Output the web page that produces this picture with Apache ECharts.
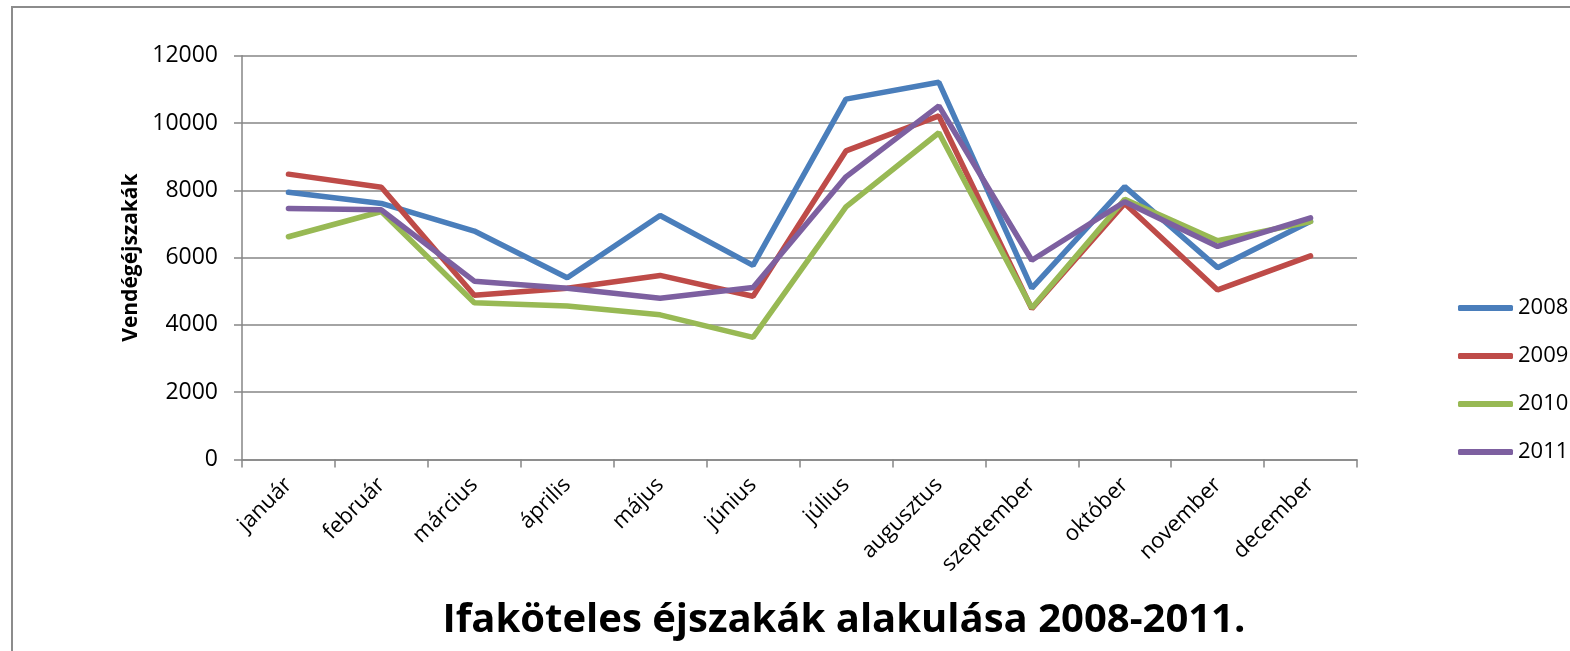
<!DOCTYPE html>
<html>
<head>
<meta charset="utf-8">
<script src="https://cdn.jsdelivr.net/npm/echarts@6/dist/echarts.min.js"></script>
<style>
  html, body { margin: 0; padding: 0; background: #fff; }
  #chart { width: 1570px; height: 651px; }
</style>
</head>
<body>
<div id="chart"></div>
<script>
// hónapok
var months = ['január', 'február', 'március', 'április', 'május', 'június',
  'július', 'augusztus', 'szeptember', 'október', 'november', 'december'];

// vendégéjszakák évenként
var y2008 = [7940, 7610, 6790, 5400, 7250, 5770, 10710, 11210, 5090, 8110, 5700, 7080];
var y2009 = [8480, 8090, 4880, 5090, 5470, 4850, 9170, 10210, 4480, 7610, 5040, 6050];
var y2010 = [6620, 7370, 4660, 4560, 4300, 3630, 7510, 9710, 4500, 7730, 6500, 7070];
var y2011 = [7460, 7420, 5300, 5090, 4790, 5110, 8400, 10510, 5920, 7660, 6330, 7180];

var years = ['2008', '2009', '2010', '2011'];
var yearData = [y2008, y2009, y2010, y2011];
var colors = ['#4a7ebb', '#be4b48', '#98b954', '#7d60a0'];

var axisGray = '#868686';
var font = "'Open Sans', sans-serif";

var series = years.map(function (y, i) {
  return {
    name: y,
    type: 'line',
    data: yearData[i],
    symbol: 'none',
    lineStyle: { width: 5.5, color: colors[i], cap: 'round' },
    itemStyle: { color: colors[i] }
  };
});

var chart = echarts.init(document.getElementById('chart'));
var option = {
  animation: false,
  backgroundColor: '#fff',
  color: colors,
  title: {
    text: 'Ifaköteles éjszakák alakulása 2008-2011.',
    left: 839, top: 596, textAlign: 'center',
    textStyle: { fontFamily: font, fontWeight: 'bold', fontSize: 40, color: '#000' }
  },
  legend: {
    orient: 'vertical',
    left: 1453, top: 291,
    icon: 'roundRect',
    itemWidth: 55, itemHeight: 6, itemGap: 24,
    textStyle: { fontFamily: font, fontSize: 22, color: '#000', lineHeight: 24 },
    data: years
  },
  grid: { left: 242, right: 213, top: 55.7, bottom: 191.5 },
  xAxis: {
    type: 'category',
    data: months,
    boundaryGap: true,
    axisLine: { lineStyle: { color: axisGray, width: 1.5 } },
    axisTick: { show: true, length: 8, lineStyle: { color: axisGray, width: 1.5 } },
    axisLabel: { interval: 0, rotate: 45, margin: 22, fontFamily: font, fontSize: 22, color: '#000' }
  },
  yAxis: {
    type: 'value',
    min: 0, max: 12000, interval: 2000,
    name: 'Vendégéjszakák',
    nameLocation: 'middle', nameRotate: 90, nameGap: 100,
    nameTextStyle: { fontFamily: font, fontWeight: 'bold', fontSize: 21, color: '#000' },
    axisLine: { show: true, lineStyle: { color: axisGray, width: 1.5 } },
    axisTick: { show: true, length: 8, lineStyle: { color: axisGray, width: 1.5 } },
    axisLabel: {
      margin: 24, fontFamily: font, fontSize: 23, color: '#000',
      formatter: function (v) { return String(v); }
    },
    splitLine: { lineStyle: { color: axisGray, width: 1.5 } }
  },
  graphic: [{
    type: 'rect',
    shape: { x: 12, y: 7, width: 1700, height: 800 },
    style: { fill: 'none', stroke: '#8c8c8c', lineWidth: 2 },
    silent: true, z: -1
  }],
  series: series
};
chart.setOption(option);
</script>
</body>
</html>
